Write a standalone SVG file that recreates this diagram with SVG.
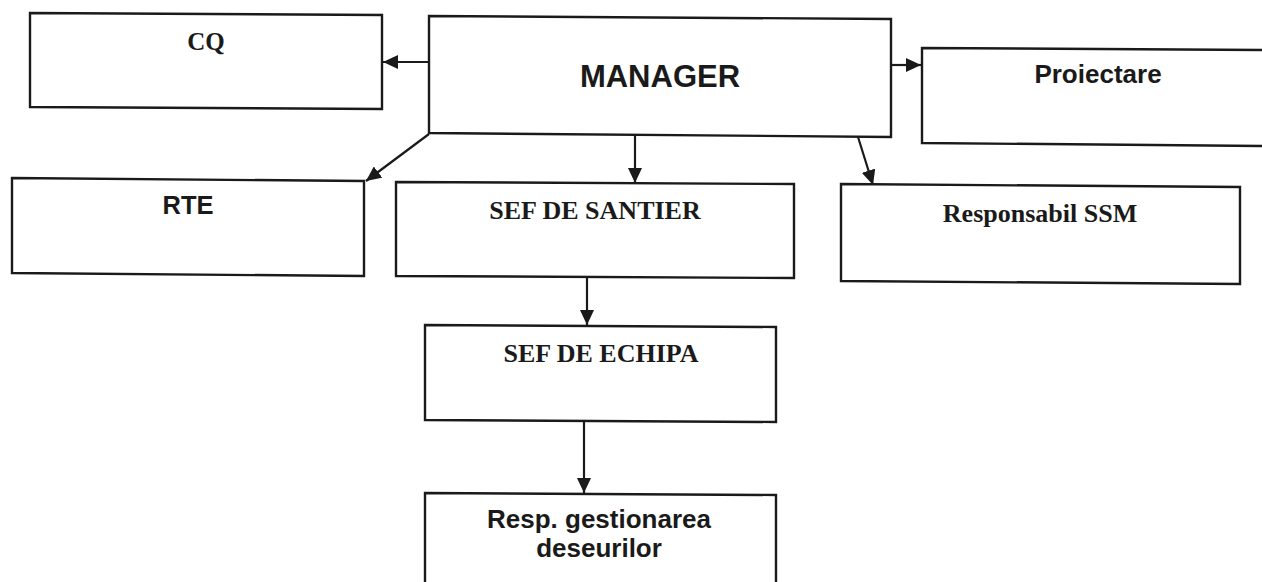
<svg xmlns="http://www.w3.org/2000/svg" width="1262" height="582" viewBox="0 0 1262 582">
<style>
.box{fill:#fff;stroke:#1a1a1a;stroke-width:2.4}
.c{stroke:#1a1a1a;stroke-width:2.2;fill:none;marker-end:url(#ah)}
.ar{font-family:"Liberation Sans",Arial,sans-serif;font-weight:bold;fill:#1a1a1a;text-anchor:middle}
.tm{font-family:"Liberation Serif","Times New Roman",serif;font-weight:bold;fill:#1a1a1a;text-anchor:middle}
</style>
<defs>
<marker id="ah" viewBox="0 0 15 14" refX="15" refY="7" markerWidth="15" markerHeight="14" markerUnits="userSpaceOnUse" orient="auto">
<path d="M0,0 L15,7 L0,14 Z" fill="#1a1a1a"/>
</marker>
</defs>
<rect width="1262" height="582" fill="#fff"/>
<g id="connectors">
<line class="c" x1="429" y1="62" x2="383" y2="62"/>
<line class="c" x1="891" y1="65" x2="921" y2="65"/>
<line class="c" x1="429" y1="134" x2="366" y2="181"/>
<line class="c" x1="635" y1="136" x2="635" y2="183"/>
<line class="c" x1="858" y1="137" x2="873" y2="185"/>
<line class="c" x1="587" y1="278" x2="587" y2="325"/>
<line class="c" x1="584" y1="421" x2="584" y2="493"/>
</g>
<g id="cq">
<polygon class="box" points="30,13 382,15 382,109 30,107"/>
<text class="tm" x="206" y="50" font-size="25">CQ</text>
</g>
<g id="manager">
<polygon class="box" points="429,16 891,19 891,137 429,133"/>
<text class="ar" x="660" y="87" font-size="31">MANAGER</text>
</g>
<g id="proiectare">
<polygon class="box" points="922,48 1264,50 1264,146 922,143"/>
<text class="ar" x="1098" y="83" font-size="26">Proiectare</text>
</g>
<g id="rte">
<polygon class="box" points="12,178 364,181 364,276 12,273"/>
<text class="ar" x="188" y="214" font-size="25.5">RTE</text>
</g>
<g id="sef-santier">
<polygon class="box" points="396,182 794,184 794,278 396,276"/>
<text class="tm" x="595" y="219" font-size="26">SEF DE SANTIER</text>
</g>
<g id="responsabil-ssm">
<polygon class="box" points="841,184 1240,187 1240,284 841,281"/>
<text class="tm" x="1040" y="222" font-size="26">Responsabil SSM</text>
</g>
<g id="sef-echipa">
<polygon class="box" points="425,325 776,327 776,422 425,420"/>
<text class="tm" x="601" y="362" font-size="26">SEF DE ECHIPA</text>
</g>
<g id="resp-deseuri">
<polygon class="box" points="425,493 776,495 776,600 425,600"/>
<text class="ar" x="599" y="528" font-size="26">Resp. gestionarea</text>
<text class="ar" x="599" y="557" font-size="26">deseurilor</text>
</g>
</svg>
